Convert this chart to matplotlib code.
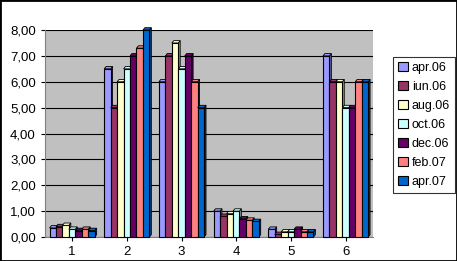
import matplotlib.pyplot as plt
import matplotlib.patches as mpatches
import matplotlib.colors as mcolors
import numpy as np

categories = ['1', '2', '3', '4', '5', '6']
series = ['apr.06', 'iun.06', 'aug.06', 'oct.06', 'dec.06', 'feb.07', 'apr.07']
values = [
    [0.35, 6.5, 6.0, 1.0, 0.3, 7.0],   # apr.06
    [0.40, 5.0, 7.0, 0.8, 0.1, 6.0],   # iun.06
    [0.45, 6.0, 7.5, 0.9, 0.2, 6.0],   # aug.06
    [0.30, 6.5, 6.5, 1.0, 0.2, 5.0],   # oct.06
    [0.25, 7.0, 7.0, 0.7, 0.3, 5.0],   # dec.06
    [0.30, 7.3, 6.0, 0.65, 0.2, 6.0],  # feb.07
    [0.25, 8.0, 5.0, 0.6, 0.2, 6.0],   # apr.07
]
colors = ['#9999FF', '#993366', '#FFFFCC', '#CCFFFF', '#660066', '#FF8080', '#0066CC']

plt.rcParams['font.family'] = ['Liberation Sans', 'DejaVu Sans']

fig = plt.figure(figsize=(4.57, 2.61), dpi=100)
ax = fig.add_axes([0.098, 0.092, 0.718, 0.793])
ax.set_facecolor('#C0C0C0')

x = np.arange(len(categories))
bw = 0.118
dx, dy = 0.035, 0.09  # fake 3d depth
for i, (s, v, c) in enumerate(zip(series, values, colors)):
    bars = ax.bar(x + (i - 3) * bw, v, bw, color=c, edgecolor='black',
                  linewidth=0.8, label=s, zorder=3, clip_on=False)
    dark = np.array(mcolors.to_rgb(c)) * 0.6
    for b in bars:
        x0, w, h = b.get_x(), b.get_width(), b.get_height()
        top = mpatches.Polygon([(x0, h), (x0 + dx, h + dy), (x0 + w + dx, h + dy), (x0 + w, h)],
                               closed=True, facecolor=c, edgecolor='black', linewidth=0.6,
                               zorder=3, clip_on=False)
        side = mpatches.Polygon([(x0 + w, 0), (x0 + w + dx, dy), (x0 + w + dx, h + dy), (x0 + w, h)],
                                closed=True, facecolor=dark, edgecolor='black', linewidth=0.6,
                                zorder=2.9, clip_on=False)
        ax.add_patch(side)
        ax.add_patch(top)

ax.set_xlim(-0.5, len(categories) - 0.5)
ax.set_ylim(0, 8)
ax.set_yticks(np.arange(0, 9, 1))
ax.set_yticklabels([f'{t:.2f}'.replace('.', ',') for t in np.arange(0, 9, 1)])
ax.set_xticks(x)
ax.set_xticklabels(categories)
ax.grid(axis='y', color='black', linewidth=0.8, zorder=1)
for sp in ['top', 'right']:
    ax.spines[sp].set_visible(False)
ax.spines['left'].set_color('#808080')
ax.spines['bottom'].set_color('#808080')
ax.tick_params(labelsize=9.5, length=3, color='black')

leg = fig.legend(loc='upper left', bbox_to_anchor=(0.86, 0.782), borderaxespad=0,
                 fontsize=9, frameon=True, fancybox=False, edgecolor='black',
                 handlelength=0.8, handleheight=0.8, handletextpad=0.3,
                 labelspacing=0.55, borderpad=0.4)
leg.get_frame().set_linewidth(0.8)

fig.patches.append(mpatches.Rectangle((0, 0), 1, 1, transform=fig.transFigure,
                                      fill=False, edgecolor='black', linewidth=2))

fig.savefig('out.png', dpi=100)
